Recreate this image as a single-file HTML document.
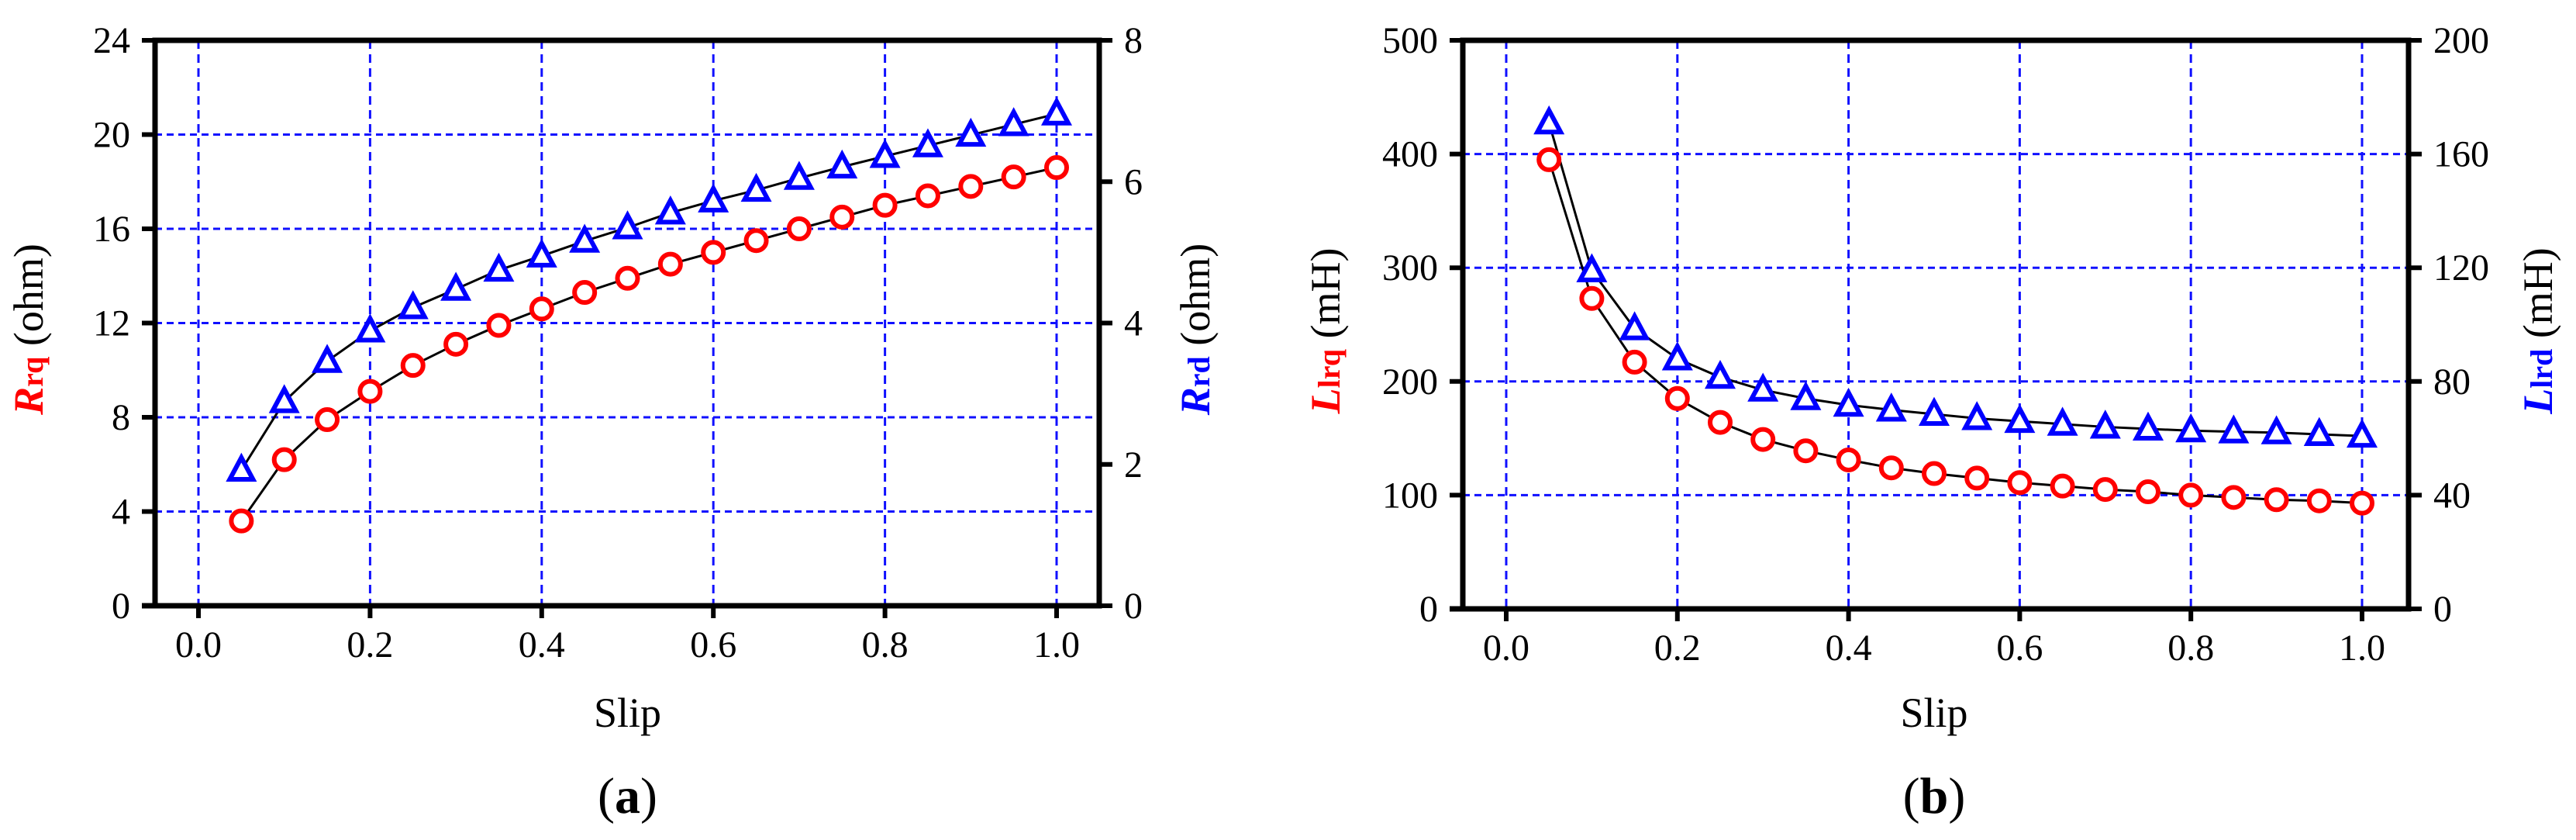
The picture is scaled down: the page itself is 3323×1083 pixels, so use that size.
<!DOCTYPE html>
<html><head><meta charset="utf-8">
<style>
html,body{margin:0;padding:0;background:#fff;}
svg{display:block;font-family:"Liberation Serif",serif;}
</style></head>
<body>
<svg id="fig" width="3323" height="1083" viewBox="0 0 3323 1083" xmlns="http://www.w3.org/2000/svg"></svg>
<script>
const slip = [0.05,0.1,0.15,0.2,0.25,0.3,0.35,0.4,0.45,0.5,0.55,0.6,0.65,0.7,0.75,0.8,0.85,0.9,0.95,1.0];
const rrq = [3.6,6.2,7.9,9.1,10.2,11.1,11.9,12.6,13.3,13.9,14.5,15.0,15.5,16.0,16.5,17.0,17.4,17.8,18.2,18.6];
const rrd = [1.92,2.89,3.46,3.89,4.22,4.48,4.75,4.95,5.16,5.35,5.56,5.73,5.88,6.05,6.21,6.36,6.51,6.66,6.81,6.96];
const llrq = [395,273,217,185,164,149,139,131,124,119,115,111,108,105,103,100,98,96,95,93];
const llrd = [171,119,98.6,88,81.5,77,74,71.7,70,68.5,67,66,65,64,63.3,62.7,62.3,62,61.4,60.8];
const xTicks = [0,0.2,0.4,0.6,0.8,1.0];
const xTickLabels = ["0.0","0.2","0.4","0.6","0.8","1.0"];
const aLeftTicks = [0,4,8,12,16,20,24];
const aRightTicks = [0,2,4,6,8];
const bLeftTicks = [0,100,200,300,400,500];
const bRightTicks = [0,40,80,120,160,200];

const NS = "http://www.w3.org/2000/svg";
const svg = document.getElementById("fig");
function el(tag, attrs, parent){
  const e = document.createElementNS(NS, tag);
  for (const k in attrs) e.setAttribute(k, attrs[k]);
  (parent||svg).appendChild(e);
  return e;
}

function drawPanel(cfg){
  const g = el("g", {});
  
  
  const X = v => cfg.x0 + (cfg.x1 - cfg.x0) * v;
  const YL = v => cfg.yb - (cfg.yb - cfg.yt) * v / cfg.lMax;
  const YR = v => cfg.yb - (cfg.yb - cfg.yt) * v / cfg.rMax;
  // grid
  xTicks.forEach(t => {
    const l = el("line", {x1:X(t), x2:X(t), y1:cfg.yt, y2:cfg.yb, stroke:"#1010ff", "stroke-width":3, "stroke-dasharray":"11,7"}, g);
    
    
  });
  cfg.lTicks.forEach(t => {
    if (t===0 || t===cfg.lMax) return;
    const l = el("line", {x1:cfg.fl, x2:cfg.fr, y1:YL(t), y2:YL(t), stroke:"#1010ff", "stroke-width":3, "stroke-dasharray":"9,6"}, g);
    
    
  });
  // frame
  const fr = el("rect", {x:cfg.fl, y:cfg.yt, width:cfg.fr-cfg.fl, height:cfg.yb-cfg.yt, fill:"none", stroke:"#000", "stroke-width":7}, g);
  
  
  // x ticks
  xTicks.forEach((t,i) => {
    el("line", {x1:X(t), x2:X(t), y1:cfg.yb, y2:cfg.yb+16, stroke:"#000", "stroke-width":6}, g);
    const tx = el("text", {x:X(t), y:cfg.yb+66, "font-size":48, "text-anchor":"middle"}, g);
    tx.textContent = xTickLabels[i];
    
    
  });
  el("line", {x1:cfg.fl-17, x2:cfg.fl, y1:cfg.yb, y2:cfg.yb, stroke:"#000", "stroke-width":7}, g);
  cfg.lTicks.forEach(t => {
    el("line", {x1:cfg.fl-17, x2:cfg.fl, y1:YL(t), y2:YL(t), stroke:"#000", "stroke-width":6}, g);
    const tx = el("text", {x:cfg.fl-32, y:YL(t)+16, "font-size":48, "text-anchor":"end"}, g);
    tx.textContent = t;
    
    
  });
  cfg.rTicks.forEach(t => {
    el("line", {x1:cfg.fr, x2:cfg.fr+17, y1:YR(t), y2:YR(t), stroke:"#000", "stroke-width":6}, g);
    const tx = el("text", {x:cfg.fr+32, y:YR(t)+16, "font-size":48, "text-anchor":"start"}, g);
    tx.textContent = t;
    
    
  });
  // lines
  const ptsL = slip.map((s,i)=>X(s)+","+YL(cfg.lData[i])).join(" ");
  const ptsR = slip.map((s,i)=>X(s)+","+YR(cfg.rData[i])).join(" ");
  const pl1 = el("polyline", {points:ptsL, fill:"none", stroke:"#000", "stroke-width":3}, g);
  
  
  const pl2 = el("polyline", {points:ptsR, fill:"none", stroke:"#000", "stroke-width":3}, g);
  
  
  slip.forEach((s,i) => {
    const c = el("circle", {cx:X(s), cy:YL(cfg.lData[i]), r:13, fill:"#fff", stroke:"#ff0000", "stroke-width":6}, g);
    
    
  });
  slip.forEach((s,i) => {
    const cx = X(s), cy = YR(cfg.rData[i]);
    const p = el("polygon", {points:`${cx},${cy-16} ${cx-15},${cy+12} ${cx+15},${cy+12}`, fill:"#fff", stroke:"#0000ff", "stroke-width":6, "stroke-linejoin":"miter"}, g);
    
    
  });
  // axis titles
  const ymid = (cfg.yt+cfg.yb)/2;
  function title(x, main, sub, unit, color, name){
    const t = el("text", {x:0, y:0, "font-size":54, "text-anchor":"middle", transform:`translate(${x},${ymid+8}) rotate(-90)`}, g);
    
    
    const a = el("tspan", {fill:color, "font-weight":"bold", "font-style":"italic"}, t); a.textContent = main;
    const b = el("tspan", {fill:color, "font-weight":"bold", "font-size":40}, t); b.textContent = sub;
    const c = el("tspan", {fill:"#000"}, t); c.textContent = " (" + unit + ")";
  }
  title(cfg.ltX, cfg.lMain, cfg.lSub, cfg.unit, "#ff0000", "left-y-axis-title");
  title(cfg.rtX, cfg.rMain, cfg.rSub, cfg.unit, "#0000ff", "right-y-axis-title");
  const xl = el("text", {x:(X(0)+X(1))/2, y:937, "font-size":54, "text-anchor":"middle"}, g);
  xl.textContent = "Slip";
  
  
  const cap = el("text", {x:(X(0)+X(1))/2, y:1048, "font-size":66, "text-anchor":"middle"}, g);
  
  
  const c1 = el("tspan", {}, cap); c1.textContent = "(";
  const c2 = el("tspan", {"font-weight":"bold"}, cap); c2.textContent = cfg.letter;
  const c3 = el("tspan", {}, cap); c3.textContent = ")";
}

drawPanel({name:"panel-a", x0:256, x1:1363, fl:200, fr:1418, yt:52, yb:781,
  lMax:24, rMax:8, lTicks:aLeftTicks, rTicks:aRightTicks, lData:rrq, rData:rrd,
  ltX:55, rtX:1560, lMain:"R", lSub:"rq", rMain:"R", rSub:"rd", unit:"ohm", letter:"a"});
drawPanel({name:"panel-b", x0:1943, x1:3047, fl:1887, fr:3107, yt:52, yb:785,
  lMax:500, rMax:200, lTicks:bLeftTicks, rTicks:bRightTicks, lData:llrq, rData:llrd,
  ltX:1728, rtX:3292, lMain:"L", lSub:"lrq", rMain:"L", rSub:"lrd", unit:"mH", letter:"b"});
</script>
</body></html>
